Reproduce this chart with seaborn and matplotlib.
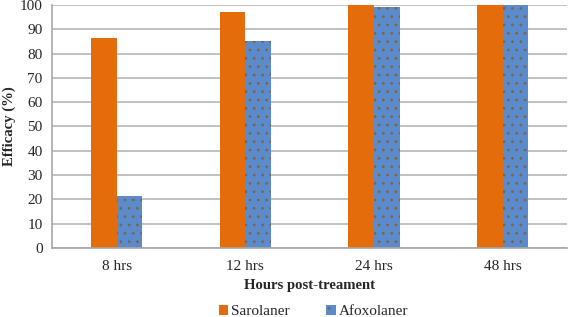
import numpy as np
import pandas as pd
import matplotlib
matplotlib.use("Agg")
import matplotlib.pyplot as plt
import seaborn as sns
from matplotlib.patches import Patch

# data
hours = ["8 hrs", "12 hrs", "24 hrs", "48 hrs"]
sarolaner = [86.3, 97.0, 100, 100]
afoxolaner = [21.2, 85.0, 99.2, 100]
products = ["Sarolaner", "Afoxolaner"]

df = pd.DataFrame({
    "Hours": hours * 2,
    "Efficacy": sarolaner + afoxolaner,
    "Product": [products[0]] * 4 + [products[1]] * 4,
})

sns.set_theme(style="white")
plt.rcParams["font.family"] = ["Liberation Serif", "DejaVu Serif"]
plt.rcParams["hatch.color"] = "#7a6650"
plt.rcParams["hatch.linewidth"] = 0.8

colors = ["#E46C0A", "#5B8BCB"]
dot = "#7a6650"
fs = 10.6

fig = plt.figure(figsize=(5.68, 3.17), dpi=100)
ax = fig.add_axes([0.092, 0.218, 0.906, 0.766])

sns.barplot(data=df, x="Hours", y="Efficacy", hue="Product", hue_order=products,
            palette=colors, width=0.4, saturation=1, ax=ax, legend=False,
            edgecolor="none", linewidth=0)

for bar in ax.containers[1]:
    bar.set_hatch("..")
    bar.set_edgecolor(dot)
    bar.set_linewidth(0)

ax.set_ylim(0, 100)
ax.set_yticks(range(0, 101, 10))
ax.yaxis.grid(True, color="#b8b8b8", linewidth=1.2)
ax.set_axisbelow(True)
for s in ["top", "right"]:
    ax.spines[s].set_visible(False)
for s in ["left", "bottom"]:
    ax.spines[s].set_color("#a8a8a8")
    ax.spines[s].set_linewidth(1.2)
ax.tick_params(axis="y", length=4, color="#a8a8a8", width=1.2, labelsize=fs + 0.4, pad=3)
ax.tick_params(axis="x", length=0, labelsize=fs + 0.4, pad=9)

ax.set_ylabel("Efficacy (%)", fontsize=fs, fontweight="bold", va="center")
ax.yaxis.set_label_coords(-0.083, 0.5)
ax.set_xlabel("Hours post-treament", fontsize=fs, fontweight="bold", labelpad=4)

handles = [Patch(facecolor=colors[0], edgecolor="none"),
           Patch(facecolor=colors[1], edgecolor=dot, linewidth=0, hatch="..")]
fig.legend(handles, products, loc="lower center", bbox_to_anchor=(0.552, -0.048),
           ncol=2, frameon=False, fontsize=fs + 0.4, handlelength=0.6, handleheight=0.6,
           handletextpad=0.2, columnspacing=2.4)

fig.savefig("out.png", dpi=100)
